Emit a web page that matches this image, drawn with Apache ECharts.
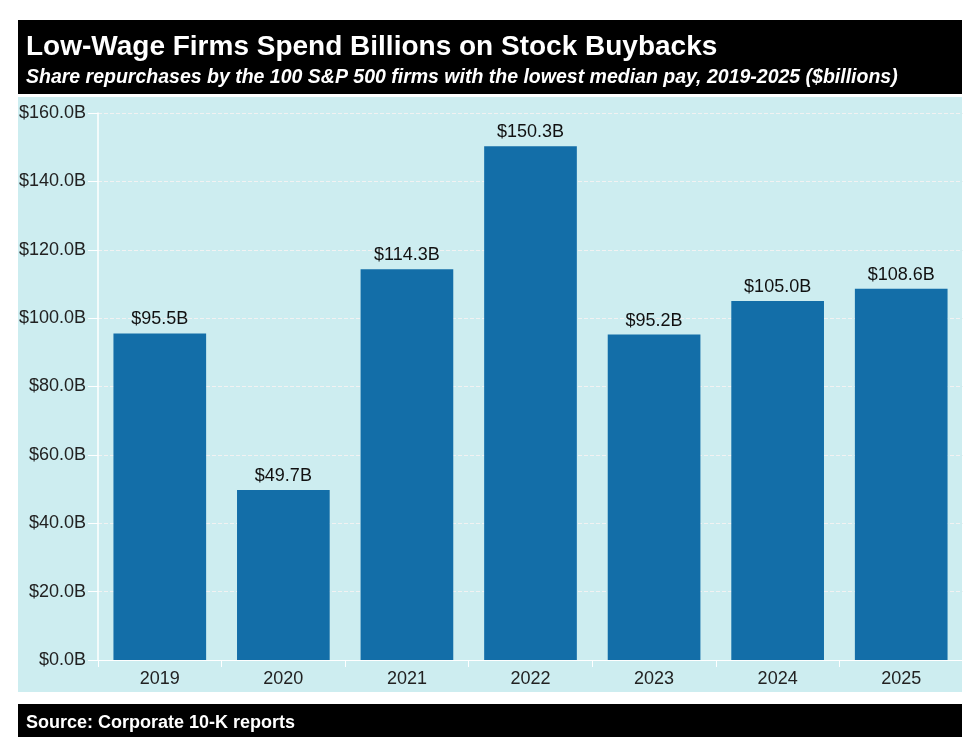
<!DOCTYPE html>
<html><head><meta charset="utf-8">
<script src="https://cdn.jsdelivr.net/npm/echarts@6/dist/echarts.min.js"></script>
<style>html,body{margin:0;padding:0;background:#fff}#c{width:980px;height:753px}</style>
</head><body><div id="c"></div>
<script>
const categories = ['2019','2020','2021','2022','2023','2024','2025'];
const buybacks = [95.5, 49.7, 114.3, 150.3, 95.2, 105.0, 108.6];
const yTicks = {min: 0, max: 160, interval: 20};

const chart = echarts.init(document.getElementById('c'));
const fmt = v => '$' + Number(v).toFixed(1) + 'B';
chart.setOption({
  backgroundColor: '#ffffff',
  animation: false,
  graphic: [
    {type:'rect', z:-10, shape:{x:18,y:20,width:944,height:74}, style:{fill:'#000'}},
    {type:'rect', z:-10, shape:{x:18,y:97,width:944,height:595}, style:{fill:'#cdedf0'}},
    {type:'rect', z:-10, shape:{x:18,y:704,width:944,height:33}, style:{fill:'#000'}}
  ],
  title: [
    {text:'Low-Wage Firms Spend Billions on Stock Buybacks', left:21, top:28,
     textStyle:{color:'#fff', fontFamily:'Liberation Sans', fontWeight:'bold', fontSize:28}},
    {text:'Share repurchases by the 100 S&P 500 firms with the lowest median pay, 2019-2025 ($billions)', left:21, top:63,
     textStyle:{color:'#fff', fontFamily:'Liberation Sans', fontWeight:'bold', fontStyle:'italic', fontSize:19.5}},
    {text:'Source: Corporate 10-K reports', left:21, top:709,
     textStyle:{color:'#fff', fontFamily:'Liberation Sans', fontWeight:'bold', fontSize:18}}
  ],
  grid: {left:98, right:17, top:113, bottom:93},
  xAxis: {
    type:'category', data:categories,
    axisLine:{show:true, lineStyle:{color:'#ffffff', width:1}},
    axisTick:{show:true, lineStyle:{color:'#ffffff'}, length:7},
    axisLabel:{color:'#222', fontFamily:'Liberation Sans', fontSize:18, margin:10}
  },
  yAxis: {
    type:'value', min:yTicks.min, max:yTicks.max, interval:yTicks.interval,
    axisLine:{show:true, lineStyle:{color:'#ffffff', width:1.5}},
    axisTick:{show:true, lineStyle:{color:'#ffffff'}, length:10},
    splitLine:{show:true, lineStyle:{color:'#f2f2f2', width:1, type:[4,2]}},
    axisLabel:{color:'#222', fontFamily:'Liberation Sans', fontSize:18, margin:12, formatter:fmt}
  },
  series: [{
    type:'bar', data:buybacks, barCategoryGap:'25%',
    itemStyle:{color:'#136ea8'},
    label:{show:true, position:'top', color:'#111', fontFamily:'Liberation Sans', fontSize:18, distance:5,
      formatter:p => fmt(p.value)}
  }]
});
</script></body></html>
